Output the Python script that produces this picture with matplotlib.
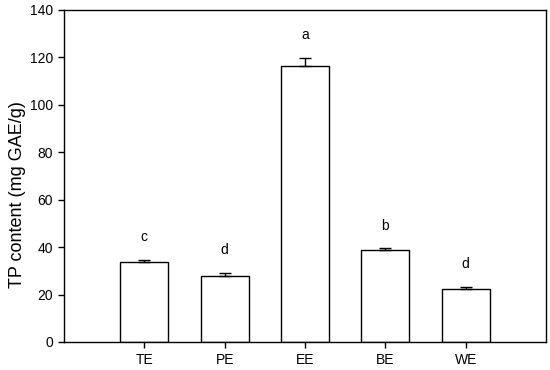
import matplotlib
matplotlib.use("Agg")
import matplotlib.pyplot as plt
import numpy as np

categories = ["TE", "PE", "EE", "BE", "WE"]
values = [33.6, 28.0, 116.4, 38.7, 22.4]
errors = [1.0, 1.2, 3.4, 0.8, 0.8]
letters = ["c", "d", "a", "b", "d"]

plt.rcParams['font.family'] = ['Liberation Sans', 'DejaVu Sans']

fig = plt.figure(figsize=(5.5, 3.7), dpi=100)
ax = fig.add_axes([0.1164, 0.0757, 0.8763, 0.8973])

x = np.arange(len(categories))
ax.bar(x, values, width=0.6, color="white", edgecolor="black", linewidth=1.0, zorder=2)
ax.errorbar(x, values, yerr=[np.zeros(len(errors)), errors], fmt="none",
            ecolor="black", elinewidth=1.0, capsize=4, capthick=1.0, zorder=3)
for xi, v, e, l in zip(x, values, errors, letters):
    ax.text(xi, v + e + 9.5, l, ha="center", va="center", fontsize=10)

ax.set_xlim(-1, 5)
ax.set_ylim(0, 140)
ax.set_yticks(np.arange(0, 141, 20))
ax.set_xticks(x)
ax.set_xticklabels(categories)
ax.tick_params(axis="both", direction="out", length=4, width=1.0, labelsize=10, pad=4)
ax.tick_params(axis="x", pad=4)
for s in ax.spines.values():
    s.set_linewidth(1.0)
ax.set_ylabel("TP content (mg GAE/g)", fontsize=13)
ax.yaxis.set_label_coords(-0.078, 0.444)

fig.savefig("out.png", dpi=100)
